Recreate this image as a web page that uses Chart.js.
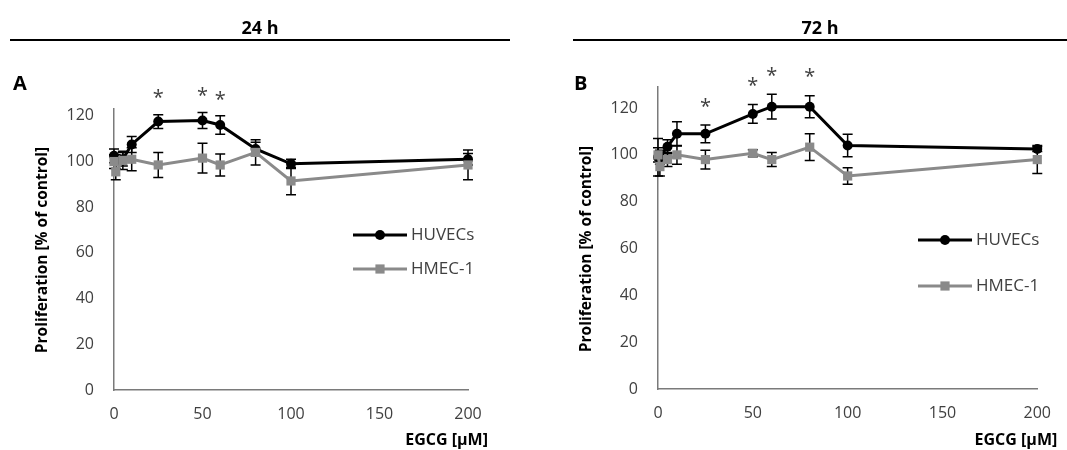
<!DOCTYPE html>
<html>
<head>
<meta charset="utf-8">
<title>EGCG proliferation</title>
<script src="https://cdn.jsdelivr.net/npm/chart.js@4.4.1/dist/chart.umd.min.js"></script>
<style>
  body { margin: 0; background: #fff; font-family: 'Open Sans', sans-serif; }
  #page { position: relative; width: 1067px; height: 450px; overflow: hidden; }
  .panel { position: absolute; top: 0; width: 533px; height: 450px; }
  .panel canvas { position: absolute; left: 0; top: 0; }
  .head {
    position: absolute; top: 15px; height: 24px; line-height: 24px;
    border-bottom: 2px solid #000; text-align: center;
    font-weight: bold; font-size: 18px; color: #000; z-index: 2;
  }
  .tag { position: absolute; top: 73px; font-weight: bold; font-size: 20px; line-height: 20px; color: #000; z-index: 2; }
</style>
</head>
<body>
<div id="page">
  <div class="panel" style="left:0">
    <div class="head" style="left:10px;width:500px">24 h</div>
    <div class="tag" style="left:13px">A</div>
    <canvas id="chart24" width="533" height="450"></canvas>
  </div>
  <div class="panel" style="left:533px;width:534px">
    <div class="head" style="left:40px;width:494px">72 h</div>
    <div class="tag" style="left:41px">B</div>
    <canvas id="chart72" width="533" height="450"></canvas>
  </div>
</div>

<script>
// EGCG concentrations (µM)
const doses = [0, 1, 5, 10, 25, 50, 60, 80, 100, 200];
const xTicks = [0, 50, 100, 150, 200];
const yTicks = [0, 20, 40, 60, 80, 100, 120];

// 24 h
const huvec24 = [102.5, 100, 101, 107.5, 117.5, 118, 116, 105.5, 99, 101];
const huvec24Sd = [3, 3, 3, 3.5, 3, 3.5, 4, 3, 2, 2.5];
const hmec24 = [100, 95.5, 100.5, 101, 98.5, 101.5, 98.5, 104, 91.5, 98.5];
const hmec24Sd = [3, 3.5, 4, 5, 5.5, 6.5, 4.8, 5.5, 6, 6.5];
const sig24 = [0, 0, 0, 0, 1, 1, 1, 0, 0, 0];

// 72 h
const huvec72 = [99, 99, 103.5, 109, 109, 117.5, 120.6, 120.6, 104, 102.5];
const huvec72Sd = [8, 3, 3, 5.2, 3.8, 4, 5.3, 4.7, 4.8, 1];
const hmec72 = [100, 95, 98, 100, 98, 100.7, 98, 103.3, 91, 98];
const hmec72Sd = [3, 4, 3, 4, 4, 1.5, 3, 5.7, 3.5, 6];
const sig72 = [0, 0, 0, 0, 1, 1, 1, 1, 0, 0];

const seriesNames = ['HUVECs', 'HMEC-1'];
const textGrey = '#404040';
const axisGrey = '#7a7a7a';

// error bars go under each dataset's line and markers
const errorBars = {
  id: 'errorBars',
  beforeDatasetDraw(chart, args) {
    const ds = chart.data.datasets[args.index];
    if (!ds.sd) return;
    const yScale = chart.scales.y;
    const ctx = chart.ctx;
    ctx.save();
    ctx.strokeStyle = '#000';
    ctx.lineWidth = 1.5;
    args.meta.data.forEach((pt, i) => {
      const v = ds.data[i].y;
      const top = yScale.getPixelForValue(v + ds.sd[i]);
      const bot = yScale.getPixelForValue(v - ds.sd[i]);
      ctx.beginPath();
      ctx.moveTo(pt.x, top); ctx.lineTo(pt.x, bot);
      ctx.moveTo(pt.x - 5, top); ctx.lineTo(pt.x + 5, top);
      ctx.moveTo(pt.x - 5, bot); ctx.lineTo(pt.x + 5, bot);
      ctx.stroke();
    });
    ctx.restore();
  }
};

// asterisks above significant HUVEC points
const stars = {
  id: 'stars',
  afterDraw(chart, args, opts) {
    const ds = chart.data.datasets[0];
    const meta = chart.getDatasetMeta(0);
    const yScale = chart.scales.y;
    const ctx = chart.ctx;
    ctx.save();
    ctx.fillStyle = textGrey;
    ctx.font = '20px "Open Sans"';
    ctx.textAlign = 'center';
    ctx.textBaseline = 'middle';
    opts.sig.forEach((s, i) => {
      if (!s) return;
      const pt = meta.data[i];
      const top = yScale.getPixelForValue(ds.data[i].y + ds.sd[i]);
      ctx.fillText('*', pt.x, top - opts.lift);
    });
    ctx.restore();
  }
};

// legend placed inside the plot, to the right
const sideLegend = {
  id: 'sideLegend',
  afterDraw(chart, args, opts) {
    const ctx = chart.ctx;
    ctx.save();
    chart.data.datasets.forEach((ds, i) => {
      const y = opts.y + i * opts.gap;
      ctx.strokeStyle = ds.borderColor;
      ctx.fillStyle = ds.borderColor;
      ctx.lineWidth = ds.borderWidth;
      ctx.beginPath();
      ctx.moveTo(opts.x, y);
      ctx.lineTo(opts.x + 54, y);
      ctx.stroke();
      Chart.helpers.drawPoint(ctx, { pointStyle: ds.pointStyle, radius: ds.pointRadius, rotation: 0, borderWidth: 0 }, opts.x + 27, y);
      ctx.fillStyle = textGrey;
      ctx.font = '17px "Open Sans"';
      ctx.textAlign = 'left';
      ctx.textBaseline = 'middle';
      ctx.fillText(ds.label, opts.x + 58, y);
    });
    ctx.restore();
  }
};

// axis titles
const axisTitles = {
  id: 'axisTitles',
  afterDraw(chart) {
    const ctx = chart.ctx;
    const area = chart.chartArea;
    ctx.save();
    ctx.fillStyle = '#000';
    ctx.font = 'bold 15.5px "Open Sans"';
    ctx.textAlign = 'center';
    ctx.textBaseline = 'middle';
    ctx.translate(area.left - 71, area.bottom - 140);
    ctx.rotate(-Math.PI / 2);
    ctx.fillText('Proliferation [% of control]', 0, 0);
    ctx.restore();

    ctx.save();
    ctx.fillStyle = '#000';
    ctx.font = 'bold 16px "Open Sans"';
    ctx.textAlign = 'right';
    ctx.textBaseline = 'middle';
    ctx.fillText('EGCG [µM]', area.right + 20, 440);
    ctx.restore();
  }
};

function toPoints(values) {
  return doses.map((d, i) => ({ x: d, y: values[i] }));
}

function makeChart(id, huvec, huvecSd, hmec, hmecSd, sig, cfg) {
  const ctx = document.getElementById(id).getContext('2d');
  return new Chart(ctx, {
    type: 'line',
    data: {
      datasets: [
        {
          label: seriesNames[0],
          data: toPoints(huvec),
          sd: huvecSd,
          borderColor: '#000',
          backgroundColor: '#000',
          borderWidth: 3,
          pointStyle: 'circle',
          pointRadius: 5,
          pointBorderWidth: 0,
          order: 1,
          clip: false
        },
        {
          label: seriesNames[1],
          data: toPoints(hmec),
          sd: hmecSd,
          borderColor: '#8a8a8a',
          backgroundColor: '#8a8a8a',
          borderWidth: 3,
          pointStyle: 'rect',
          pointRadius: 6.5,
          pointBorderWidth: 0,
          order: 0,
          clip: false
        }
      ]
    },
    options: {
      responsive: false,
      animation: false,
      devicePixelRatio: 1,
      layout: { padding: cfg.padding },
      plugins: {
        legend: { display: false },
        tooltip: { enabled: false },
        stars: { sig: sig, lift: cfg.starLift },
        sideLegend: cfg.legend
      },
      scales: {
        x: {
          type: 'linear',
          min: 0,
          max: 200,
          afterBuildTicks: s => { s.ticks = xTicks.map(v => ({ value: v })); },
          afterFit: s => { s.height = 40; },
          grid: { display: false, drawTicks: false },
          border: { display: true, color: axisGrey, width: 1.5 },
          ticks: { color: textGrey, padding: 15, font: { family: 'Open Sans', size: 16 }, maxRotation: 0 }
        },
        y: {
          type: 'linear',
          min: 0,
          max: cfg.yMax,
          afterBuildTicks: s => { s.ticks = yTicks.map(v => ({ value: v })); },
          afterFit: s => { s.width = 60; },
          grid: { display: false, drawTicks: false },
          border: { display: true, color: axisGrey, width: 1.5 },
          ticks: { color: textGrey, padding: 20, font: { family: 'Open Sans', size: 16 } }
        }
      }
    },
    plugins: [errorBars, stars, sideLegend, axisTitles]
  });
}

makeChart('chart24', huvec24, huvec24Sd, hmec24, hmec24Sd, sig24, {
  yMax: 123,
  padding: { left: 54, right: 65, top: 109, bottom: 20 },
  starLift: 16,
  legend: { x: 353, y: 235, gap: 34 }
});

makeChart('chart72', huvec72, huvec72Sd, hmec72, hmec72Sd, sig72, {
  yMax: 129,
  padding: { left: 65, right: 26, top: 87, bottom: 21 },
  starLift: 18,
  legend: { x: 385, y: 240, gap: 46 }
});
</script>
</body>
</html>
